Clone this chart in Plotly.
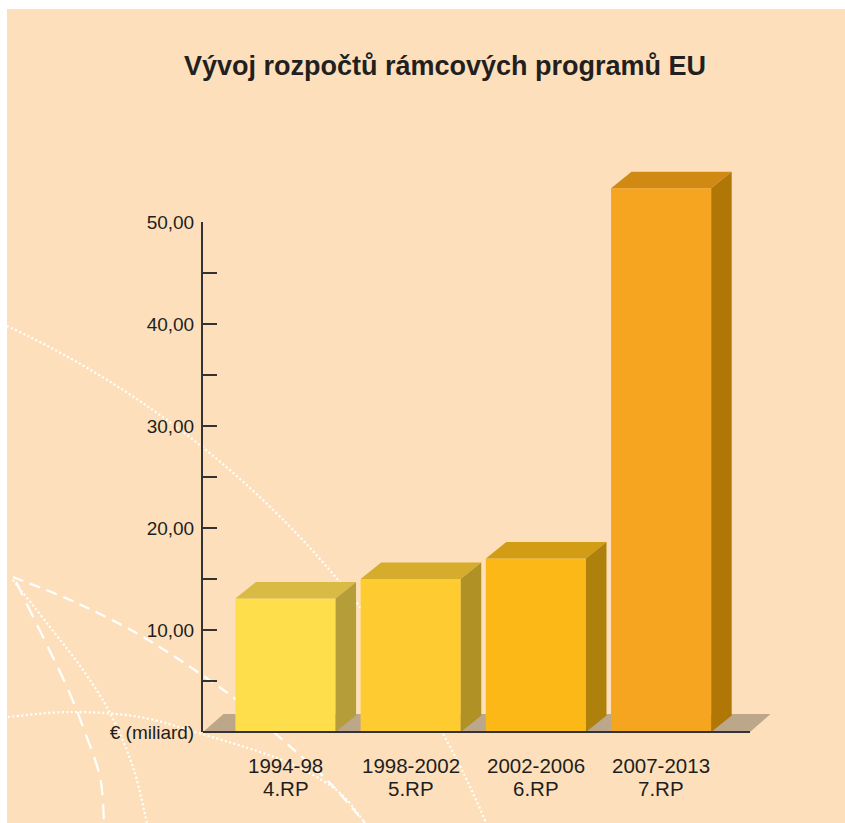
import numpy as np
import plotly.graph_objects as go

# ---------------- data ----------------
title = "Vývoj rozpočtů rámcových programů EU"
periods = ["1994-98", "1998-2002", "2002-2006", "2007-2013"]
programs = ["4.RP", "5.RP", "6.RP", "7.RP"]
budget = [13.1, 15.0, 17.0, 53.3]          # € billions
y_tickvals = [0, 10, 20, 30, 40, 50]
y_ticktext = ["€ (miliard)", "10,00", "20,00", "30,00", "40,00", "50,00"]
y_minor = [5, 15, 25, 35, 45]

# ---------------- style ----------------
front_colors = ["#FEDE4B", "#FECB31", "#FBB817", "#F5A51F"]
top_colors = ["#D8BA44", "#D5AC2B", "#D29C14", "#D08A14"]
side_colors = ["#B59E3A", "#B09126", "#AD810C", "#B07606"]
BG = "#FDE0BB"
FLOOR = "#BDA78B"
INK = "#1E1E1E"
FONT = "Liberation Sans, Arial, Helvetica, sans-serif"

W, H = 845, 823
ML, MT = 7, 9
LEFT_PX, TOP_PX = ML, MT
RIGHT_PX, BOTTOM_PX = W, H
X0_PX = 285.5      # centre of first bar (page px)
STEP_PX = 125.2    # bar spacing (px)
Y0_PX = 732        # baseline (page px)
PXU = 10.2         # px per € billion
AXIS_PX = 203
FLOOR_END_PX = 750
BAR_W = 0.8
DX = 20.5 / STEP_PX
DY = 16.5 / PXU
FDY = 18 / PXU

xmin = (LEFT_PX - X0_PX) / STEP_PX
xmax = (RIGHT_PX - X0_PX) / STEP_PX
ymin = -(BOTTOM_PX - Y0_PX) / PXU
ymax = (Y0_PX - TOP_PX) / PXU
PW = RIGHT_PX - LEFT_PX
PH = BOTTOM_PX - TOP_PX


def to_data(px, py):
    return ((px - X0_PX) / STEP_PX, (Y0_PX - py) / PXU)


def smooth_path(points):
    pts = [to_data(*p) for p in points]
    path = f"M {pts[0][0]:.4f},{pts[0][1]:.4f}"
    for i in range(len(pts) - 1):
        p0 = pts[i - 1] if i > 0 else pts[i]
        p1 = pts[i]
        p2 = pts[i + 1]
        p3 = pts[i + 2] if i + 2 < len(pts) else pts[i + 1]
        c1 = (p1[0] + (p2[0] - p0[0]) / 6, p1[1] + (p2[1] - p0[1]) / 6)
        c2 = (p2[0] - (p3[0] - p1[0]) / 6, p2[1] - (p3[1] - p1[1]) / 6)
        path += f" C {c1[0]:.4f},{c1[1]:.4f} {c2[0]:.4f},{c2[1]:.4f} {p2[0]:.4f},{p2[1]:.4f}"
    return path


xpos = list(range(len(budget)))

fig = go.Figure()

# front faces
fig.add_trace(go.Bar(
    x=xpos, y=budget, width=BAR_W,
    marker=dict(color=front_colors, line=dict(width=0)),
    hoverinfo="skip", showlegend=False,
))

# top and side faces derived from the values
for i, v in enumerate(budget):
    l, r = i - BAR_W / 2, i + BAR_W / 2
    fig.add_trace(go.Scatter(
        x=[l, r, r + DX, l + DX, l], y=[v, v, v + DY, v + DY, v],
        fill="toself", fillcolor=top_colors[i], mode="lines",
        line=dict(width=0, color=top_colors[i]),
        hoverinfo="skip", showlegend=False,
    ))
    fig.add_trace(go.Scatter(
        x=[r, r + DX, r + DX, r, r], y=[0, DY, v + DY, v, 0],
        fill="toself", fillcolor=side_colors[i], mode="lines",
        line=dict(width=0, color=side_colors[i]),
        hoverinfo="skip", showlegend=False,
    ))

# invisible trace to hold the visible value axis
fig.add_trace(go.Scatter(x=[0], y=[0], xaxis="x2", yaxis="y2", mode="markers",
                         marker=dict(opacity=0), hoverinfo="skip", showlegend=False))

shapes = []
shapes.append(dict(type="rect", xref="paper", yref="paper", x0=0, x1=1, y0=0, y1=1,
                   fillcolor=BG, line=dict(width=0), layer="below"))

# decorative globe lines
cx, cy, rr = -396, 1194, 957
a0 = np.arctan2(326 - cy, 7 - cx)
a1 = np.arctan2(823 - cy, 486 - cx)
angs = np.linspace(a0, a1, 30)
arc1 = [(cx + rr * np.cos(a), cy + rr * np.sin(a)) for a in angs]
deco = [
    (arc1, "2px,2.5px"),
    ([(13, 577), (77, 603), (150, 641), (233, 697), (277, 735), (327, 780), (365, 823)], "11px,7px"),
    ([(8, 717), (70, 712), (140, 717), (205, 735), (260, 752), (300, 768), (340, 793), (365, 823)], "2px,2.5px"),
    ([(16, 582), (43, 637), (67, 687), (83, 727), (100, 777), (104, 823)], "15px,9px"),
    ([(13, 580), (50, 627), (83, 670), (110, 713), (133, 767), (147, 823)], "2px,2.5px"),
]
for pts, dash in deco:
    shapes.append(dict(type="path", xref="x", yref="y", path=smooth_path(pts),
                       line=dict(color="white", width=2.2, dash=dash), layer="below"))

# floor
ax_x = (AXIS_PX - X0_PX) / STEP_PX
fe_x = (FLOOR_END_PX - X0_PX) / STEP_PX
shapes.append(dict(type="path", xref="x", yref="y",
                   path=f"M {ax_x},0 L {fe_x},0 L {fe_x + DX},{FDY} L {ax_x + DX},{FDY} Z",
                   fillcolor=FLOOR, line=dict(width=0), layer="below"))
shapes.append(dict(type="line", xref="x", yref="y", x0=ax_x, x1=fe_x, y0=0, y1=0,
                   line=dict(color="#333333", width=2), layer="above"))

annotations = []
for i in xpos:
    annotations.append(dict(x=i, y=(Y0_PX - 765) / PXU, xref="x", yref="y",
                            text=periods[i], showarrow=False, xanchor="center", yanchor="middle",
                            font=dict(family=FONT, size=20.5, color=INK)))
    annotations.append(dict(x=i, y=(Y0_PX - 788) / PXU, xref="x", yref="y",
                            text=programs[i], showarrow=False, xanchor="center", yanchor="middle",
                            font=dict(family=FONT, size=20.5, color=INK)))
annotations.append(dict(x=(444.5 - LEFT_PX) / PW, y=1 - (66 - TOP_PX) / PH,
                        xref="paper", yref="paper", text=f"<b>{title}</b>", showarrow=False,
                        xanchor="center", yanchor="middle",
                        font=dict(family=FONT, size=27, color="#231F20")))

fig.update_layout(
    width=W, height=H,
    margin=dict(l=ML, r=0, t=MT, b=0, autoexpand=False),
    paper_bgcolor="white", plot_bgcolor="rgba(0,0,0,0)",
    showlegend=False,
    xaxis=dict(range=[xmin, xmax], visible=False, domain=[0, 1], fixedrange=True),
    yaxis=dict(range=[ymin, ymax], visible=False, domain=[0, 1], fixedrange=True),
    xaxis2=dict(domain=[(AXIS_PX - LEFT_PX) / PW, 1], range=[0, 1], visible=False,
                anchor="y2", fixedrange=True),
    yaxis2=dict(domain=[(BOTTOM_PX - Y0_PX) / PH, (BOTTOM_PX - (Y0_PX - 50 * PXU)) / PH],
                range=[0, 50], anchor="x2", showline=True, linecolor="#333333", linewidth=2,
                ticks="inside", ticklen=14, tickwidth=2, tickcolor="#333333",
                tickvals=y_tickvals, ticktext=y_ticktext, ticklabelstandoff=3,
                minor=dict(tickvals=y_minor, ticks="inside", ticklen=14, tickwidth=2,
                           tickcolor="#333333"),
                showgrid=False, zeroline=False, fixedrange=True,
                tickfont=dict(family=FONT, size=19, color=INK)),
    shapes=shapes,
    annotations=annotations,
)

fig.write_html(
    "out.html",
    config={"displayModeBar": False},
    post_script="document.body.style.margin='0';document.body.style.overflow='hidden';",
)
